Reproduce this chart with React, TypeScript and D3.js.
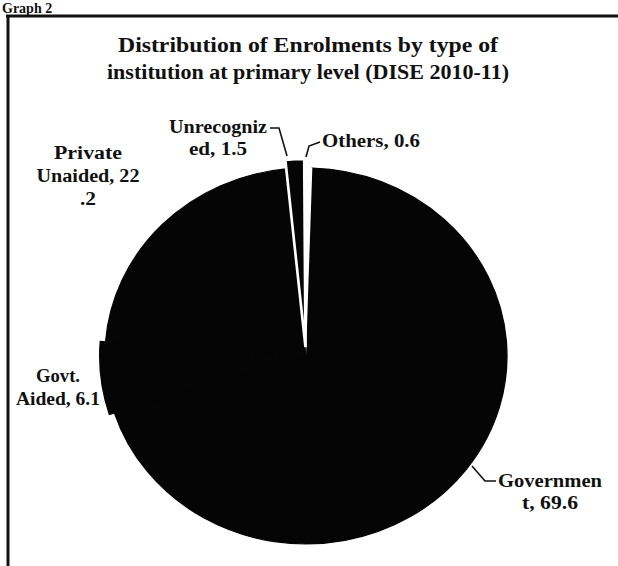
import React from 'react';
import * as d3 from 'd3';

const categories = ['Government', 'Govt. Aided', 'Private Unaided', 'Unrecognized', 'Others'];
const values = [69.6, 6.1, 22.2, 1.5, 0.6];
const labelLines = [
  ['Governmen', 't, 69.6'],
  ['Govt.', 'Aided, 6.1'],
  ['Private', 'Unaided, 22', '.2'],
  ['Unrecogniz', 'ed, 1.5'],
  ['Others, 0.6'],
];
const titleLines = ['Distribution of Enrolments by type of', 'institution at primary level (DISE 2010-11)'];
const heading = 'Graph 2';

const W = 618;
const H = 566;
const CX = 306;
const CY = 356;
const RY = 188;
const RX = 201;
const START = (1.8 * Math.PI) / 180;
const FONT = "'Liberation Serif', serif";

const explode = [0, 0, 0, 9, 0];
const extraR = [0, 5, 0, 0, 0];
const fills = ['#050505', '#050505', '#050505', '#050505', '#ffffff'];
const strokes = ['#050505', '#050505', '#050505', '#ffffff', 'none'];
const strokeW = [1.2, 1.2, 1.2, 2.5, 0];
const drawOrder = [0, 1, 2, 4, 3];

// label layout: anchor x, first baseline, line spacing, text widths per line (0 = natural)
const labelPos = [
  { x: 550, y: 487, dy: 22, w: [104, 56] },
  { x: 58, y: 382, dy: 23, w: [44, 84] },
  { x: 88, y: 159, dy: 23, w: [68, 103, 16] },
  { x: 218, y: 133, dy: 22, w: [98, 58] },
  { x: 371, y: 147, dy: 22, w: [98] },
];

const titleWidths = [380, 402];

const leaders: [number, number][][] = [
  [[472, 466], [485, 481], [496, 481]],
  [],
  [],
  [[270, 128], [279, 128], [287, 156]],
  [[306, 157], [309, 146], [320, 142]],
];

export default function App() {
  const pie = d3
    .pie<number>()
    .sort(null)
    .value((d) => d)
    .startAngle(START)
    .endAngle(START + 2 * Math.PI);
  const arcs = pie(values);
  const line = d3.line();

  return (
    <svg width={W} height={H} style={{ display: 'block', position: 'absolute', left: 0, top: 0, background: '#fff' }}>
      <rect x={0} y={0} width={W} height={H} fill="#ffffff" />
      <text x={2} y={13} fontFamily={FONT} fontWeight="bold" fontSize={14} fill="#111">
        {heading}
      </text>
      <line x1={6} y1={16} x2={W} y2={16} stroke="#111" strokeWidth={3} />
      <line x1={8} y1={15} x2={8} y2={H} stroke="#111" strokeWidth={3} />

      {titleLines.map((t, i) => (
        <text
          key={t}
          x={308}
          y={52 + i * 27}
          textAnchor="middle"
          fontFamily={FONT}
          fontWeight="bold"
          fontSize={21}
          fill="#111"
          textLength={titleWidths[i]}
          lengthAdjust="spacingAndGlyphs"
        >
          {t}
        </text>
      ))}

      <g transform={`translate(${CX},${CY}) scale(${RX / RY},1)`}>
        {drawOrder.map((i) => {
          const a = arcs[i];
          const mid = (a.startAngle + a.endAngle) / 2;
          const dx = Math.sin(mid) * explode[i];
          const dy = -Math.cos(mid) * explode[i];
          const arcGen = d3.arc<d3.PieArcDatum<number>>().innerRadius(0).outerRadius(RY + extraR[i]);
          return (
            <path
              key={categories[i]}
              d={arcGen(a) || ''}
              transform={`translate(${dx},${dy})`}
              fill={fills[i]}
              stroke={strokes[i]}
              strokeWidth={strokeW[i]}
              strokeLinejoin="miter"
            />
          );
        })}
      </g>

      {leaders.map((pts, i) =>
        pts.length ? (
          <path key={'l' + i} d={line(pts) || ''} fill="none" stroke="#111" strokeWidth={1.6} />
        ) : null
      )}

      {labelLines.map((lines, i) =>
        lines.map((s, j) => {
          const w = labelPos[i].w[j];
          return (
            <text
              key={'t' + i + '-' + j}
              x={labelPos[i].x}
              y={labelPos[i].y + j * labelPos[i].dy}
              textAnchor="middle"
              fontFamily={FONT}
              fontWeight="bold"
              fontSize={18}
              fill="#111"
              textLength={w || undefined}
              lengthAdjust={w ? 'spacingAndGlyphs' : undefined}
            >
              {s}
            </text>
          );
        })
      )}
    </svg>
  );
}
